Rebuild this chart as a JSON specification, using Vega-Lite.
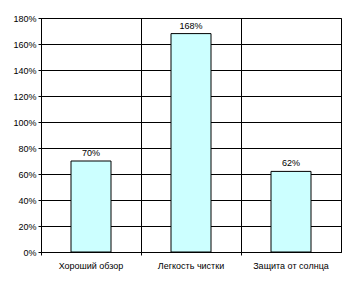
{
  "$schema": "https://vega.github.io/schema/vega-lite/v6.json",
  "autosize": {"type": "none"},
  "width": 300,
  "height": 234,
  "padding": {"left": 41, "top": 18, "right": 11, "bottom": 31},
  "background": "white",
  "data": {"values": [
    {"cat": "Хороший обзор", "v": 0.70},
    {"cat": "Легкость чистки", "v": 1.68},
    {"cat": "Защита от солнца", "v": 0.62}
  ]},
  "encoding": {
    "x": {"field": "cat", "type": "nominal", "sort": null,
      "scale": {"paddingInner": 0, "paddingOuter": 0},
      "axis": {"title": null, "labelAngle": 0, "bandPosition": 0,
        "grid": true, "gridColor": "black", "gridOpacity": 1, "gridWidth": 1,
        "domainColor": "black", "tickColor": "black", "tickSize": 3,
        "labelPadding": 6, "labelFontSize": 9, "labelColor": "black", "labelFont": "Liberation Sans"}},
    "y": {"field": "v", "type": "quantitative",
      "scale": {"domain": [0, 1.8], "nice": false},
      "axis": {"title": null, "format": ".0%", "values": [0, 0.2, 0.4, 0.6, 0.8, 1.0, 1.2, 1.4, 1.6, 1.8],
        "grid": true, "gridColor": "black", "gridOpacity": 1, "gridWidth": 1,
        "domainColor": "black", "tickColor": "black", "tickSize": 3,
        "labelPadding": 2, "labelFontSize": 9, "labelColor": "black", "labelFont": "Liberation Sans"}}
  },
  "layer": [
    {"mark": {"type": "bar", "width": {"band": 0.4}, "fill": "#CCFFFF", "stroke": "black", "strokeWidth": 1}},
    {"mark": {"type": "text", "baseline": "bottom", "dy": -3, "fontSize": 9, "font": "Liberation Sans", "color": "black"},
      "encoding": {"text": {"field": "v", "type": "quantitative", "format": ".0%"}}}
  ],
  "config": {"view": {"stroke": "black", "strokeWidth": 1}}
}
